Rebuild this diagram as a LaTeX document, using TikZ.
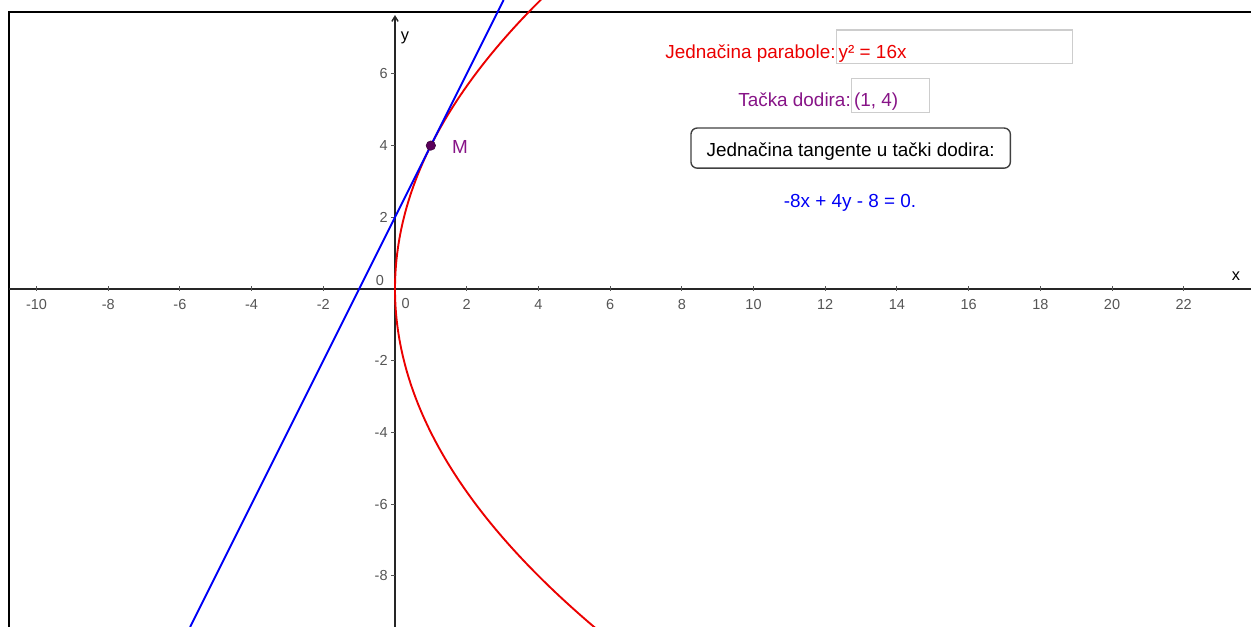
\documentclass[tikz,border=0pt]{standalone}
\usepackage{fontspec}
\setmainfont{Liberation Sans}
\usetikzlibrary{arrows.meta,calc,positioning}
\definecolor{ParabRed}{RGB}{235,0,0}
\definecolor{TangBlue}{RGB}{0,0,245}
\definecolor{DotPurple}{RGB}{90,0,90}
\definecolor{TextPurple}{RGB}{135,20,135}
\definecolor{TickGray}{RGB}{85,85,85}
\definecolor{FieldGray}{RGB}{205,205,205}
\tikzset{
  txt/.style={font=\fontsize{15}{18}\selectfont,inner sep=0pt,text height=1.55ex,text depth=0.3ex},
  ticklab/.style={font=\fontsize{11.5}{14}\selectfont,text=TickGray,inner sep=0pt},
  field/.style={draw=FieldGray,line width=1pt,inner sep=0pt},
  axis/.style={line width=1.1pt,black!85}
}

\begin{document}
\begin{tikzpicture}[x=1cm,y=1cm,>=Latex]
  \useasboundingbox (-11.018,-9.428) rectangle (23.877,8.061);
  % frame of the view
  \draw[line width=1.4pt] (-10.77,-9.5) -- (-10.77,7.73) -- (23.95,7.73);

  % axes
  \coordinate (xl) at (-10.77,0);
  \coordinate (xr) at (23.95,0);
  \coordinate (yb) at (0,-9.5);
  \coordinate (yt) at (0,7.64);
  \draw[axis] (xl) -- (xr);
  \draw[axis,-{Straight Barb[length=4pt,width=5pt]}] (yb) -- (yt);
  \node[txt,font=\fontsize{13}{15}\selectfont] (ylab) at (0.28,7.05) {y};
  \node[txt,font=\fontsize{13}{15}\selectfont] (xlab) at (23.46,0.36) {x};

  \foreach \i in {-10,-8,...,-2,2,4,...,22}{
    \draw[TickGray,line width=0.8pt] (\i,-0.05) -- (\i,0.09);
    \node[ticklab] (xt\i) at (\i,-0.44) {\i};
  }
  \foreach \j in {-8,-6,...,-2,2,4,6}{
    \draw[TickGray,line width=0.8pt] (-0.1,\j) -- (0,\j);
    \node[ticklab,anchor=east] (yt\j) at (-0.2,\j) {\j};
  }
  \node[ticklab] (ozero) at (-0.42,0.25) {0};
  \node[ticklab] (xzero) at (0.3,-0.41) {0};

  % parabola y^2 = 16x and its tangent
  \draw[ParabRed,line width=1.5pt] plot[domain=-9.45:8.08,samples=120,smooth] ({\x*\x/16},\x);
  \coordinate (tb) at (-5.715,-9.43);
  \coordinate (tt) at (3.03,8.06);
  \draw[TangBlue,line width=1.5pt] (tb) -- (tt);

  \node[circle,fill=DotPurple,draw=DotPurple!60!black,inner sep=0pt,minimum size=7.5pt] (M) at (1,4) {};
  \node[txt,text=TextPurple,right=0.45cm of M,yshift=-0.1cm] (Mlab) {M};

  % input fields and button
  \node[field,anchor=north west,minimum width=6.58cm,minimum height=0.93cm] (parbox) at (12.30,7.24) {};
  \node[txt,text=ParabRed,anchor=east,yshift=-0.2cm] (parlab) at (parbox.west) {Jednačina parabole:};
  \node[txt,text=ParabRed,anchor=west,yshift=-0.2cm] (pareq) at ($(parbox.west)+(0.07,0)$) {y² = 16x};

  \node[field,anchor=north west,minimum width=2.18cm,minimum height=0.94cm] (ptbox) at (12.72,5.89) {};
  \node[txt,text=TextPurple,anchor=east,yshift=-0.2cm] (ptlab) at (ptbox.west) {Tačka dodira:};
  \node[txt,text=TextPurple,anchor=west,yshift=-0.2cm] (pteq) at ($(ptbox.west)+(0.08,0)$) {(1, 4)};

  \node[txt,text height=2.65ex,text depth=0ex,draw=black!75,line width=1.1pt,rounded corners=5pt,
    minimum width=8.91cm,minimum height=1.12cm]
    (tanbtn) at (12.71,3.93) {Jednačina tangente u tački dodira:};
  \node[txt,text=TangBlue] (taneq) at (12.69,2.40) {-8x + 4y - 8 = 0.};
\end{tikzpicture}
\end{document}
